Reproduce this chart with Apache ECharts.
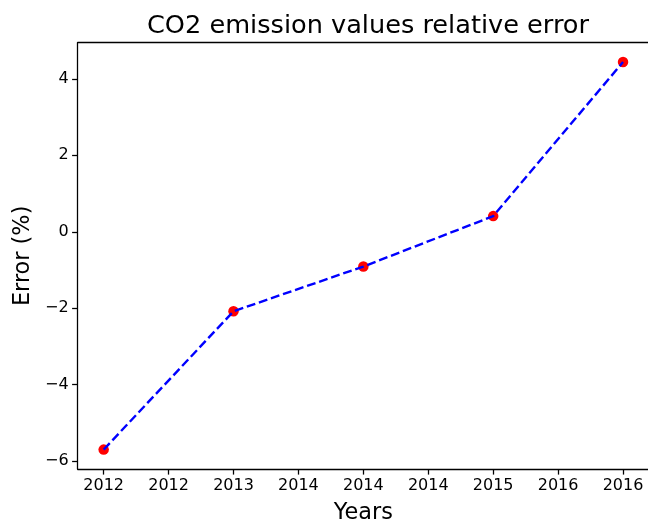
<!DOCTYPE html>
<html>
<head>
<meta charset="utf-8">
<script src="https://cdn.jsdelivr.net/npm/echarts@6/dist/echarts.min.js"></script>
<style>html,body{margin:0;padding:0;background:#fff}#c{width:648px;height:525px}</style>
</head>
<body>
<div id="c"></div>
<script>
const years = [2012, 2013, 2014, 2015, 2016];
const errors = [-5.70, -2.08, -0.91, 0.41, 4.44];
const xTicks = [2012, 2012.5, 2013, 2013.5, 2014, 2014.5, 2015, 2015.5, 2016];
const yTicks = [-6, -4, -2, 0, 2, 4];

function roundHalfEven(v) {
  const f = Math.floor(v);
  const d = v - f;
  if (Math.abs(d - 0.5) < 1e-9) return (f % 2 === 0) ? f : f + 1;
  return Math.round(v);
}
const xSpan = years[years.length - 1] - years[0];
const ySpan = Math.max(...errors) - Math.min(...errors);
const xMin = years[0] - 0.05 * xSpan, xMax = years[years.length - 1] + 0.05 * xSpan;
const yMin = Math.min(...errors) - 0.05 * ySpan, yMax = Math.max(...errors) + 0.05 * ySpan;

const font = 'DejaVu Sans';
const chart = echarts.init(document.getElementById('c'), null, {renderer: 'canvas'});
chart.setOption({
  animation: false,
  backgroundColor: '#fff',
  title: {
    text: 'CO2 emission values relative error',
    left: 142,
    top: 8,
    textStyle: {fontFamily: font, fontSize: 25.6, fontWeight: 'normal', color: '#000'}
  },
  grid: {left: 77.7, right: -1, top: 42.7, bottom: 56, outerBoundsMode: 'none', containLabel: false, show: false},
  xAxis: [{
    type: 'value', min: xMin, max: xMax,
    name: 'Years', nameLocation: 'middle', nameGap: 33,
    nameTextStyle: {fontFamily: font, fontSize: 22.4, color: '#000'},
    axisLine: {show: true, onZero: false, lineStyle: {color: '#000', width: 1.28}},
    axisTick: {show: true, length: 5.6, lineStyle: {color: '#000', width: 1.28}, customValues: xTicks},
    axisLabel: {fontFamily: font, fontSize: 16, color: '#000', margin: 9, customValues: xTicks,
      formatter: v => String(roundHalfEven(v))},
    splitLine: {show: false}
  }, {
    type: 'value', position: 'top', min: xMin, max: xMax,
    axisLine: {show: true, onZero: false, lineStyle: {color: '#000', width: 1.28}},
    axisTick: {show: false}, axisLabel: {show: false}, splitLine: {show: false}
  }],
  yAxis: {
    type: 'value', min: yMin, max: yMax,
    name: 'Error (%)', nameLocation: 'middle', nameGap: 37, nameRotate: 90,
    nameTextStyle: {fontFamily: font, fontSize: 22.4, color: '#000'},
    axisLine: {show: true, onZero: false, lineStyle: {color: '#000', width: 1.28}},
    axisTick: {show: true, length: 5.6, lineStyle: {color: '#000', width: 1.28}, customValues: yTicks},
    axisLabel: {fontFamily: font, fontSize: 16, color: '#000', margin: 9, customValues: yTicks,
      formatter: v => (v < 0 ? '\u2212' + Math.abs(v) : String(v))},
    splitLine: {show: false}
  },
  series: [
    {
      type: 'scatter', z: 2,
      data: years.map((y, i) => [y, errors[i]]),
      symbol: 'circle', symbolSize: 10.5,
      itemStyle: {color: '#ff0000', opacity: 1}
    },
    {
      type: 'line', z: 3,
      data: years.map((y, i) => [y, errors[i]]),
      showSymbol: false, symbol: 'none',
      lineStyle: {color: '#0000ff', width: 2.4, type: [8.9, 3.84]}
    }
  ]
});
</script>
</body>
</html>
